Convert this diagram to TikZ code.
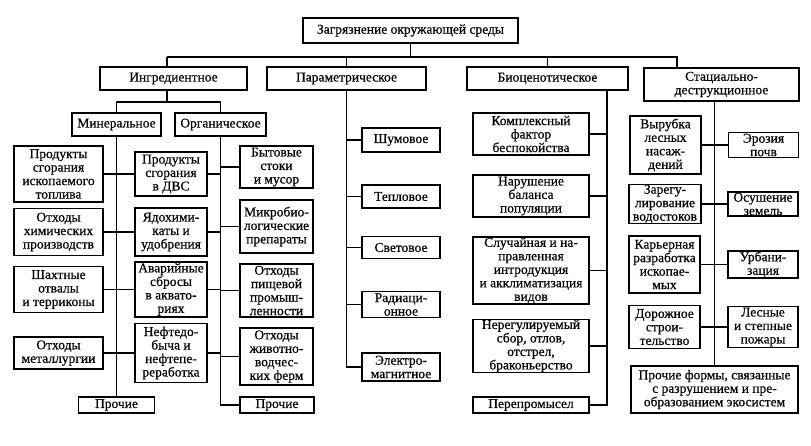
\documentclass[tikz,border=0pt]{standalone}
\usepackage{fontspec}
\setmainfont{Liberation Serif}[FakeBold=0.5]
\tikzset{ bx/.style = { rectangle % box
        , draw
        , line width = 1.2pt
        , inner sep = 0.5pt
        , align = center
        , font = \fontsize{13.5}{13.5}\selectfont
        }
        }

\begin{document}
\begin{tikzpicture}[x=1pt, y=-1pt,
        edge_style/.style={draw=black, line width=1.2pt}]
        \useasboundingbox (0,0) rectangle (811,445);

        \node [bx,minimum width=215pt,minimum height=25pt](top) at (410.5,30.5) {Загрязнение окружающей среды};
        \node [bx,minimum width=147pt,minimum height=23pt](ing) at (173.5,78.5) {Ингредиентное};
        \node [bx,minimum width=159pt,minimum height=23pt](par) at (346.5,78.5) {Параметрическое};
        \node [bx,minimum width=161pt,minimum height=23pt](bio) at (547.5,78.5) {Биоценотическое};
        \node [bx,minimum width=155pt,minimum height=33pt](sta) at (721.5,84.5) {Стациально-\\деструкционное};

        \node [bx,minimum width=89pt,minimum height=23pt](min) at (116.5,124.5) {Минеральное};
        \node [bx,minimum width=91pt,minimum height=23pt](org) at (220.5,124.5) {Органическое};

        \node [bx,minimum width=89pt,minimum height=56pt](a1) at (58.5,174) {Продукты\\сгорания\\ископаемого\\топлива};
        \node [bx,minimum width=89pt,minimum height=47pt](a2) at (58.5,232) {Отходы\\химических\\производств};
        \node [bx,minimum width=89pt,minimum height=46pt](a3) at (58.5,289.5) {Шахтные\\отвалы\\и терриконы};
        \node [bx,minimum width=89pt,minimum height=32pt](a4) at (58.5,353) {Отходы\\металлургии};
        \node [bx,minimum width=72pt,minimum height=44pt](b1) at (171,174) {Продукты\\сгорания\\в ДВС};
        \node [bx,minimum width=72pt,minimum height=48pt](b2) at (171,232) {Ядохими-\\каты и\\удобрения};
        \node [bx,minimum width=72pt,minimum height=55pt](b3) at (171,289.5) {Аварийные\\сбросы\\в аквато-\\риях};
        \node [bx,minimum width=72pt,minimum height=59pt](b4) at (171,353) {Нефтедо-\\быча и\\нефтепе-\\реработка};
        \node [bx,minimum width=76pt,minimum height=16pt](min_oth) at (116.5,405) {Прочие};
        \node [bx,minimum width=73pt,minimum height=42pt](c1) at (276.5,167) {Бытовые\\стоки\\и мусор};
        \node [bx,minimum width=73pt,minimum height=53pt](c2) at (276.5,226.5) {Микробио-\\логические\\препараты};
        \node [bx,minimum width=73pt,minimum height=53pt](c3) at (276.5,290.5) {Отходы\\пищевой\\промыш-\\ленности};
        \node [bx,minimum width=73pt,minimum height=57pt](c4) at (276.5,356.5) {Отходы\\животно-\\водчес-\\ких ферм};
        \node [bx,minimum width=74pt,minimum height=16pt](c5) at (277,405) {Прочие};

        \node [bx,minimum width=78pt,minimum height=24pt](p1) at (401,140) {Шумовое};
        \node [bx,minimum width=78pt,minimum height=23pt](p2) at (401,196.5) {Тепловое};
        \node [bx,minimum width=78pt,minimum height=22pt](p3) at (401,247.5) {Световое};
        \node [bx,minimum width=78pt,minimum height=26pt](p4) at (401,304.5) {Радиаци-\\онное};
        \node [bx,minimum width=78pt,minimum height=28pt](p5) at (401,367) {Электро-\\магнитное};

        \node [bx,minimum width=116pt,minimum height=42pt](q1) at (531,134) {Комплексный\\фактор\\беспокойства};
        \node [bx,minimum width=116pt,minimum height=42pt](q2) at (531,196) {Нарушение\\баланса\\популяции};
        \node [bx,minimum width=116pt,minimum height=65pt](q3) at (531,270.5) {Случайная и на-\\правленная\\интродукция\\и акклиматизация\\видов};
        \node [bx,minimum width=116pt,minimum height=48pt](q4) at (531,346) {Нерегулируемый\\сбор, отлов,\\отстрел,\\браконьерство};
        \node [bx,minimum width=116pt,minimum height=16pt](q5) at (531,405) {Перепромысел};

        \node [bx,minimum width=71pt,minimum height=58pt](s1) at (665.5,145) {Вырубка\\лесных\\насаж-\\дений};
        \node [bx,minimum width=70pt,minimum height=25pt](t1) at (763.5,145) {Эрозия\\почв};
        \node [bx,minimum width=72pt,minimum height=39pt](s2) at (665,204) {Зарегу-\\лирование\\водостоков};
        \node [bx,minimum width=70pt,minimum height=24pt](t2) at (763,204) {Осушение\\земель};
        \node [bx,minimum width=71pt,minimum height=57pt](s3) at (664.5,264.5) {Карьерная\\разработка\\ископае-\\мых};
        \node [bx,minimum width=70pt,minimum height=27pt](t3) at (763,264.5) {Урбани-\\зация};
        \node [bx,minimum width=71pt,minimum height=43pt](s4) at (664.5,327) {Дорожное\\строи-\\тельство};
        \node [bx,minimum width=70pt,minimum height=41pt](t4) at (763,327) {Лесные\\и степные\\пожары};
        \node [bx,minimum width=167pt,minimum height=47pt](s5) at (714.5,389.5) {Прочие формы, связанные\\с разрушением и пре-\\образованием экосистем};

        \coordinate (top_fork) at (410.5,57);
        \coordinate (sta_in) at (677,68);
        \coordinate (ing_fork) at (167,102);
        \coordinate (bio_out) at (607,90);

        \draw [edge_style] (top) -- (top_fork);
        \draw [edge_style] (ing_fork |- top_fork) -- (top_fork) -| (sta_in);
        \draw [edge_style] (ing_fork |- top_fork) -- (ing_fork |- ing.north);
        \draw [edge_style] (par |- top_fork) -- (par);
        \draw [edge_style] (bio |- top_fork) -- (bio);

        \draw [edge_style] (ing_fork |- ing.south) -- (ing_fork);
        \draw [edge_style] (min) |- (ing_fork) -| (org);
        \draw [edge_style] (min) -- (min_oth);
        \draw [edge_style] (org) |- (c5);

        \draw [edge_style] (a1) -- (b1);
        \draw [edge_style] (a2) -- (b2);
        \draw [edge_style] (a3) -- (b3);
        \draw [edge_style] (a4) -- (b4);
        \draw [edge_style] (b1.east) -- (b1.east -| org.south);
        \draw [edge_style] (b2.east) -- (b2.east -| org.south);
        \draw [edge_style] (b3.east) -- (b3.east -| org.south);
        \draw [edge_style] (b4.east) -- (b4.east -| org.south);
        \draw [edge_style] (c1.west -| org.south) -- (c1);
        \draw [edge_style] (c2.west -| org.south) -- (c2);
        \draw [edge_style] (c3.west -| org.south) -- (c3);
        \draw [edge_style] (c4.west -| org.south) -- (c4);

        \draw [edge_style] (par) |- (p5);
        \draw [edge_style] (p1.west -| par.south) -- (p1);
        \draw [edge_style] (p2.west -| par.south) -- (p2);
        \draw [edge_style] (p3.west -| par.south) -- (p3);
        \draw [edge_style] (p4.west -| par.south) -- (p4);

        \draw [edge_style] (bio_out) |- (q5);
        \draw [edge_style] (q1.east -| bio_out) -- (q1);
        \draw [edge_style] (q2.east -| bio_out) -- (q2);
        \draw [edge_style] (q3.east -| bio_out) -- (q3);
        \draw [edge_style] (q4.east -| bio_out) -- (q4);

        \draw [edge_style] (s5) -- (s5 |- sta.south);
        \draw [edge_style] (s1) -- (t1);
        \draw [edge_style] (s2) -- (t2);
        \draw [edge_style] (s3) -- (t3);
        \draw [edge_style] (s4) -- (t4);

\end{tikzpicture}
\end{document}
